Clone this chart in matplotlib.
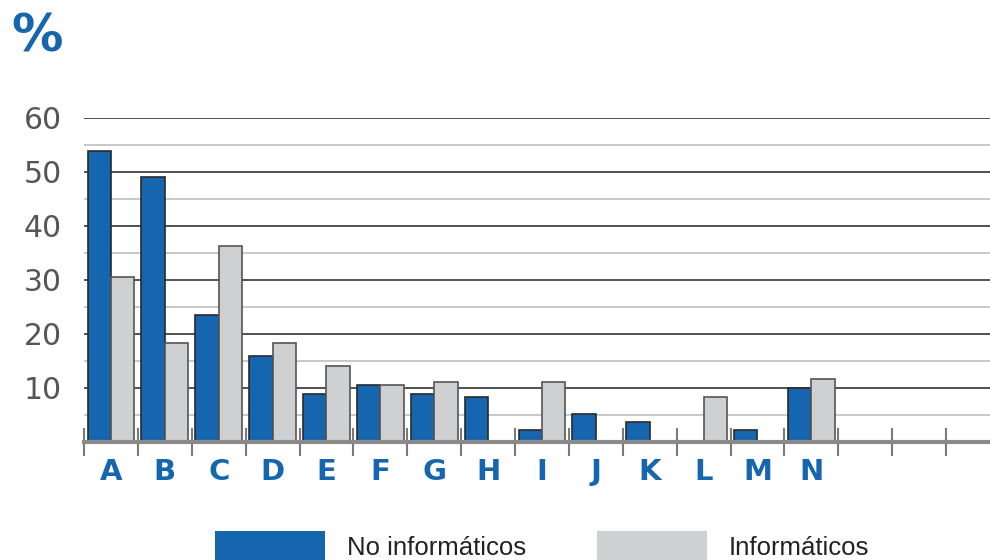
import numpy as np
import matplotlib.pyplot as plt
from matplotlib.patches import Patch

# Data
categories = ['A', 'B', 'C', 'D', 'E', 'F', 'G', 'H', 'I', 'J', 'K', 'L', 'M', 'N']
no_informaticos = [53.8, 49.1, 23.4, 15.8, 8.9, 10.5, 8.9, 8.3, 2.1, 5.2, 3.7, 0, 2.1, 10.0]
informaticos = [30.5, 18.2, 36.3, 18.2, 14.1, 10.5, 11.0, 0, 11.0, 0, 0, 8.3, 0, 11.6]
n_slots = 17

blue = '#1565af'
grey = '#cfd0d2'

fig = plt.figure(figsize=(9.9, 5.6), dpi=100)
ax = fig.add_axes([84 / 990, 1 - 441.7 / 560, 1 - 84 / 990, 324 / 560])

x = np.arange(len(categories)) + 0.5
w = 0.435
ax.bar(x - w / 2, no_informaticos, w, color=blue, edgecolor='#2a2a2a', linewidth=1.2, zorder=3)
ax.bar(x + w / 2, informaticos, w, color=grey, edgecolor='#555555', linewidth=1.2, zorder=3)

ax.set_xlim(0, 906 / 53.875)
ax.set_ylim(0, 60)

# grid: dark on the tens, light on the fives
for v in range(10, 61, 10):
    ax.axhline(v, color='#333333', linewidth=1.2, zorder=1)
for v in range(5, 60, 10):
    ax.axhline(v, color='#c4c4c4', linewidth=1.3, zorder=1)

ax.set_yticks(range(10, 61, 10))
ax.tick_params(axis='y', length=0, pad=16, labelsize=21.5, labelcolor='#555555')

# slot separators on the x axis
ax.set_xticks(range(n_slots))
ax.set_xticklabels([])
ax.tick_params(axis='x', which='major', direction='inout', length=20, width=1.5, color='#7a7a7a')
ax.set_xticks(x, categories, minor=True)
ax.tick_params(axis='x', which='minor', length=0, pad=12, labelsize=21, labelcolor=blue)
for lbl in ax.get_xticklabels(minor=True):
    lbl.set_fontweight('bold')

for side in ['top', 'right', 'left']:
    ax.spines[side].set_visible(False)
ax.spines['bottom'].set_color('#8a8a8a')
ax.spines['bottom'].set_linewidth(3)
ax.spines['bottom'].set_zorder(5)

fig.text(11 / 990, 1 - 13 / 560, '%', fontsize=37, fontweight='bold', color=blue, ha='left', va='top')

handles = [Patch(facecolor=blue, edgecolor='none'), Patch(facecolor=grey, edgecolor='none')]
leg = fig.legend(handles, ['No informáticos', 'Informáticos'], loc='center',
                 bbox_to_anchor=(542 / 990, 1 - 546 / 560), ncol=2, frameon=False,
                 handlelength=4.3, handleheight=1.45, handletextpad=0.85, columnspacing=2.75,
                 prop={'family': 'Liberation Sans', 'size': 18.5})
for t in leg.get_texts():
    t.set_color('#222222')

fig.savefig('out.png', dpi=100)
